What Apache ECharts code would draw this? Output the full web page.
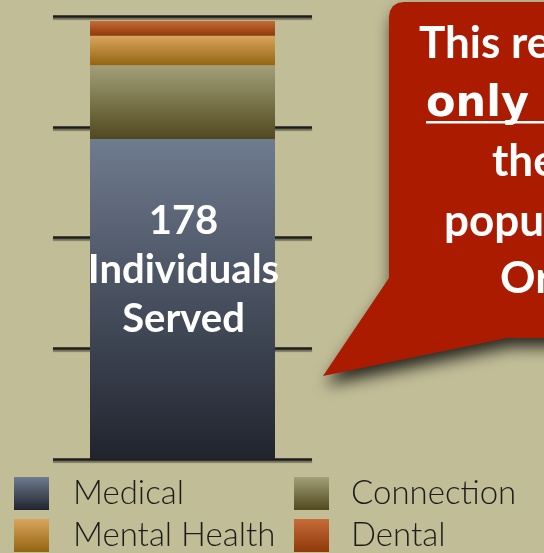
<!DOCTYPE html>
<html>
<head>
<meta charset="utf-8">
<script src="https://cdn.jsdelivr.net/npm/echarts@6/dist/echarts.min.js"></script>
<style>
html,body{margin:0;padding:0;background:#c1bd97;}
#chart{width:544px;height:553px;}
</style>
</head>
<body>
<div id="chart"></div>
<script>
// values
var categories = ['Individuals'];
var medical = [130];
var connection = [30];
var mentalHealth = [12];
var dental = [6];
var yMin = 0, yMax = 180, yStep = 45;
var calloutLines = ['This represents', 'only a fraction', 'the total', 'population in', 'Orange County'];

function grad(top, bottom){
	return {
		type : 'linear', x : 0, y : 0, x2 : 0, y2 : 1,
		colorStops : [{offset: 0, color: top}, {offset: 1, color: bottom}]
	};
}

var total = medical[0] + connection[0] + mentalHealth[0] + dental[0];
var font = 'Lato, "Open Sans", sans-serif';

// callout outline, rounded top-left corner
var bubble = [[389, 278], [389, 17], [390, 11], [393, 6], [398, 3], [404, 2], [600, 2], [600, 338], [507, 338], [323, 376]];

var legendText = {fontFamily: font, fontWeight: 300, fontSize: 33, color: '#1c1c1c'};

var chart = echarts.init(document.getElementById('chart'));
chart.setOption({
	animation : false,
	backgroundColor : '#c1bd97',
	grid : {left: 53, right: 232, top: 16, bottom: 94},
	legend : [
		{
			data : ['Medical', 'Mental Health'],
			orient : 'vertical',
			left : 14, top : 477, padding : 0,
			itemWidth : 35, itemHeight : 33, itemGap : 9,
			icon : 'rect',
			textStyle : Object.assign({padding: [0, 0, 0, 19]}, legendText)
		},
		{
			data : ['Connection', 'Dental'],
			orient : 'vertical',
			left : 294, top : 477, padding : 0,
			itemWidth : 35, itemHeight : 33, itemGap : 9,
			icon : 'rect',
			textStyle : Object.assign({padding: [0, 0, 0, 17]}, legendText)
		}
	],
	xAxis : {
		type : 'category',
		data : categories,
		axisLine : {show: false},
		axisTick : {show: false},
		axisLabel : {show: false}
	},
	yAxis : {
		type : 'value',
		min : yMin, max : yMax, interval : yStep,
		axisLine : {show: false},
		axisTick : {show: false},
		axisLabel : {show: false},
		splitLine : {
			lineStyle : {color: '#1d1d1b', width: 2.5, shadowColor: 'rgba(40,40,30,0.55)', shadowOffsetY: 2, shadowBlur: 1}
		}
	},
	series : [
		{
			name : 'Medical', type : 'bar', stack : 'all', barWidth : 185,
			data : medical,
			itemStyle : {color: grad('#6f7b8f', '#20242e')},
			label : {
				show : true, position : 'inside', offset : [1, -29],
				formatter : function(){ return total + '\nIndividuals\nServed'; },
				color : '#ffffff', fontFamily : font, fontWeight : 'bold', fontSize : 40, lineHeight : 49
			}
		},
		{
			name : 'Connection', type : 'bar', stack : 'all',
			data : connection,
			itemStyle : {color: grad('#a2a078', '#51481e')}
		},
		{
			name : 'Mental Health', type : 'bar', stack : 'all',
			data : mentalHealth,
			itemStyle : {color: grad('#d9a55e', '#946510')}
		},
		{
			name : 'Dental', type : 'bar', stack : 'all',
			data : dental,
			itemStyle : {color: grad('#c66c3a', '#8f3808')}
		}
	],
	graphic : [
		{
			type : 'polygon', z : 10,
			shape : {points: bubble},
			style : {fill: '#aa1b00', shadowColor: 'rgba(0,0,0,0.8)', shadowBlur: 16, shadowOffsetX: 3, shadowOffsetY: 9}
		},
		{type: 'text', z: 11, left: 419, top: 22, style: {text: calloutLines[0], fill: '#fff', font: 'bold 44px ' + font}},
		{type: 'text', z: 11, left: 426, top: 83, style: {text: calloutLines[1], fill: '#fff', font: 'bold 43px "DejaVu Sans", ' + font}},
		{type: 'rect', z: 11, shape: {x: 426, y: 121, width: 200, height: 2.5}, style: {fill: '#fff'}},
		{type: 'text', z: 11, left: 492, top: 140, style: {text: calloutLines[2], fill: '#fff', font: 'bold 44px ' + font}},
		{type: 'text', z: 11, left: 444, top: 200, style: {text: calloutLines[3], fill: '#fff', font: 'bold 44px ' + font}},
		{type: 'text', z: 11, left: 500, top: 257, style: {text: calloutLines[4], fill: '#fff', font: 'bold 44px ' + font}}
	]
});
</script>
</body>
</html>
